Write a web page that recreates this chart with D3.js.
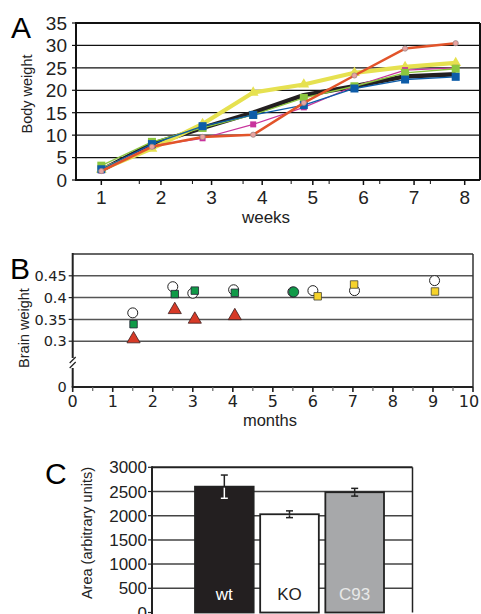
<!DOCTYPE html>
<html>
<head>
<meta charset="utf-8">
<script src="https://cdn.jsdelivr.net/npm/d3@7"></script>
<style>
  body { margin: 0; background: #fff; }
  svg { display: block; }
</style>
</head>
<body>
<svg id="fig" width="481" height="614"></svg>
<script>
// panel A: body weight by week
var weeks = [1, 2, 3, 4, 5, 6, 7, 8];
var weightTicks = [0, 5, 10, 15, 20, 25, 30, 35];
var weekMinorTicks = [1.75, 2.8, 3.8, 4.75, 5.5, 6.5, 7.5];
var bwBlack = [2.2, 8.0, 11.6, 15.0, 18.9, 20.9, 23.1, 23.6];
var bwYellow = [2.3, 7.0, 12.5, 19.5, 21.3, 23.9, 25.2, 26.1];
var bwMagenta = [2.1, 7.6, 9.3, 12.4, 16.2, 20.9, 24.5, 25.0];
var bwGreen = [3.2, 8.5, 11.6, 14.5, 18.3, 20.9, 23.9, 24.8];
var bwBlue = [2.4, 8.0, 12.0, 14.5, 16.7, 20.4, 22.4, 23.0];
var bwOrange = [2.0, 7.4, 9.6, 10.1, 17.2, 23.3, 29.3, 30.5];

// panel B: brain weight by month
var monthTicks = [0, 1, 2, 3, 4, 5, 6, 7, 8, 9, 10];
var brainTicks = [0.3, 0.35, 0.4, 0.45];
var wtMonths = [1.5, 2.5, 3.0, 4.02, 5.5, 6.0, 7.04, 9.04];
var wtBrain = [0.365, 0.425, 0.41, 0.418, 0.413, 0.416, 0.416, 0.439];
var greenMonths = [1.52, 2.55, 3.05, 4.05, 5.52];
var greenBrain = [0.339, 0.408, 0.416, 0.411, 0.413];
var greenShape = ['square', 'square', 'square', 'square', 'circle'];
var redMonths = [1.52, 2.55, 3.05, 4.05];
var redBrain = [0.305, 0.372, 0.35, 0.358];
var yellowMonths = [6.12, 7.03, 9.05];
var yellowBrain = [0.403, 0.43, 0.414];

// panel C: area
var genotypes = ['wt', 'KO', 'C93'];
var areaMean = [2600, 2030, 2485];
var areaErr = [240, 70, 80];
var areaTicks = [0, 500, 1000, 1500, 2000, 2500, 3000];

var svg = d3.select('#fig');
var sans = '"Liberation Sans", Arial, sans-serif';
var verd = '"DejaVu Sans", Verdana, sans-serif';

function zip(xs, ys) {
    return xs.map(function (x, i) { return { x: x, y: ys[i], i: i }; });
}

function panelLetter(txt, x, y) {
    svg.append('text').attr('x', x).attr('y', y)
        .attr('font-family', sans).attr('font-size', 30)
        .text(txt);
}

function drawPanelA() {
    var L = 76, R = 480, T = 23, B = 180;
    var x = d3.scaleLinear().domain([0.5, 8.48]).range([L, R]);
    var y = d3.scaleLinear().domain([0, 35]).range([B, T]);
    var g = svg.append('g');

    g.selectAll('.grid').data(weightTicks.slice(1, -1)).enter().append('line')
        .attr('x1', L).attr('x2', R)
        .attr('y1', function (d) { return y(d); }).attr('y2', function (d) { return y(d); })
        .attr('stroke', '#111').attr('stroke-width', 1.2);

    g.append('line').attr('x1', L).attr('x2', R).attr('y1', T).attr('y2', T)
        .attr('stroke', '#111').attr('stroke-width', 2.2);
    g.append('line').attr('x1', R).attr('x2', R).attr('y1', T).attr('y2', B)
        .attr('stroke', '#111').attr('stroke-width', 2);
    g.append('line').attr('x1', L).attr('x2', L).attr('y1', T - 1).attr('y2', B + 1)
        .attr('stroke', '#111').attr('stroke-width', 2);
    g.append('line').attr('x1', L - 1).attr('x2', R).attr('y1', B).attr('y2', B)
        .attr('stroke', '#111').attr('stroke-width', 2);

    // y ticks and labels
    g.selectAll('.yt').data(weightTicks).enter().append('line')
        .attr('x1', L - 4).attr('x2', L)
        .attr('y1', function (d) { return y(d); }).attr('y2', function (d) { return y(d); })
        .attr('stroke', '#111').attr('stroke-width', 1.2);
    g.selectAll('.yl').data(weightTicks).enter().append('text')
        .attr('x', L - 9).attr('y', function (d) { return y(d); })
        .attr('dy', '0.36em').attr('text-anchor', 'end')
        .attr('font-family', sans).attr('font-size', 19).attr('fill', '#222')
        .text(function (d) { return d; });

    // x ticks: labels sit a little right of the data points after week 1
    var labelX = function (w) { return x(w) + (w > 1 ? 9 : 0); };
    g.selectAll('.xt').data(weeks).enter().append('line')
        .attr('x1', labelX).attr('x2', labelX)
        .attr('y1', B).attr('y2', B + 5)
        .attr('stroke', '#111').attr('stroke-width', 1.5);
    g.selectAll('.xm').data(weekMinorTicks).enter().append('line')
        .attr('x1', function (d) { return x(d); }).attr('x2', function (d) { return x(d); })
        .attr('y1', B).attr('y2', B + 4)
        .attr('stroke', '#111').attr('stroke-width', 1);
    g.selectAll('.xl').data(weeks).enter().append('text')
        .attr('x', labelX).attr('y', B + 24)
        .attr('text-anchor', 'middle')
        .attr('font-family', sans).attr('font-size', 19).attr('fill', '#222')
        .text(function (d) { return d; });

    g.append('text').attr('x', 266).attr('y', 223).attr('text-anchor', 'middle')
        .attr('font-family', sans).attr('font-size', 17).attr('fill', '#222').text('weeks');
    g.append('text').attr('transform', 'translate(32,94) rotate(-90)')
        .attr('text-anchor', 'middle')
        .attr('font-family', sans).attr('font-size', 14.5).attr('fill', '#222').text('Body weight');

    var line = d3.line().x(function (d) { return x(d.x); }).y(function (d) { return y(d.y); });
    var series = [
        { v: bwBlack, color: '#231f20', w: 4.5, mark: null },
        { v: bwYellow, color: '#e6e150', w: 4.2, mark: 'triangle' },
        { v: bwMagenta, color: '#c8339c', w: 1.2, mark: 'smallsquare' },
        { v: bwGreen, color: '#8cc63f', w: 1.3, mark: 'square' },
        { v: bwBlue, color: '#0d5ca8', w: 1.3, mark: 'square' },
        { v: bwOrange, color: '#e2542a', w: 2.5, mark: 'circle' }
    ];
    series.forEach(function (s) {
        var pts = zip(weeks, s.v);
        g.append('path').datum(pts).attr('d', line)
            .attr('fill', 'none').attr('stroke', s.color).attr('stroke-width', s.w)
            .attr('stroke-linejoin', 'round');
        if (s.mark === 'square' || s.mark === 'smallsquare') {
            var sz = s.mark === 'square' ? 8 : 6;
            g.selectAll(null).data(pts).enter().append('rect')
                .attr('x', function (d) { return x(d.x) - sz / 2; })
                .attr('y', function (d) { return y(d.y) - sz / 2; })
                .attr('width', sz).attr('height', sz).attr('fill', s.color);
        } else if (s.mark === 'triangle') {
            g.selectAll(null).data(pts).enter().append('path')
                .attr('d', d3.symbol(d3.symbolTriangle, 50))
                .attr('transform', function (d) { return 'translate(' + x(d.x) + ',' + y(d.y) + ')'; })
                .attr('fill', s.color);
        } else if (s.mark === 'circle') {
            g.selectAll(null).data(pts).enter().append('circle')
                .attr('cx', function (d) { return x(d.x); })
                .attr('cy', function (d) { return y(d.y); })
                .attr('r', 2.6).attr('fill', '#eaa3a0')
                .attr('stroke', '#9a8a8a').attr('stroke-width', 0.8);
        }
    });
    panelLetter('A', 11, 38);
}

function drawPanelB() {
    var L = 72.7, R = 473, T = 254, B = 387;
    var x = d3.scaleLinear().domain([0, 10]).range([L, R]);
    var y = d3.scaleLinear().domain([0, 0.25, 0.5]).range([B, 363, T]);
    var g = svg.append('g');

    g.selectAll('.grid').data(brainTicks).enter().append('line')
        .attr('x1', L).attr('x2', R)
        .attr('y1', function (d) { return y(d); }).attr('y2', function (d) { return y(d); })
        .attr('stroke', '#555').attr('stroke-width', 1.5);
    g.append('line').attr('x1', L).attr('x2', R).attr('y1', T).attr('y2', T)
        .attr('stroke', '#333').attr('stroke-width', 1.5);
    g.append('line').attr('x1', R).attr('x2', R).attr('y1', T).attr('y2', B)
        .attr('stroke', '#333').attr('stroke-width', 1.5);
    // broken y axis
    g.append('line').attr('x1', L).attr('x2', L).attr('y1', T - 1).attr('y2', 358)
        .attr('stroke', '#222').attr('stroke-width', 2);
    g.append('line').attr('x1', L).attr('x2', L).attr('y1', 368).attr('y2', B)
        .attr('stroke', '#222').attr('stroke-width', 2);
    [360, 365].forEach(function (yy) {
        g.append('line').attr('x1', L - 3).attr('x2', L + 3).attr('y1', yy + 3).attr('y2', yy - 3)
            .attr('stroke', '#222').attr('stroke-width', 1.2);
    });
    g.append('line').attr('x1', L - 1).attr('x2', R).attr('y1', B).attr('y2', B)
        .attr('stroke', '#222').attr('stroke-width', 2);

    var halfTicks = d3.range(0.5, 10, 1);
    g.selectAll('.xt').data(monthTicks).enter().append('line')
        .attr('x1', function (d) { return x(d); }).attr('x2', function (d) { return x(d); })
        .attr('y1', B).attr('y2', B + 5)
        .attr('stroke', '#222').attr('stroke-width', 1.6);
    g.selectAll('.xm').data(halfTicks).enter().append('line')
        .attr('x1', function (d) { return x(d); }).attr('x2', function (d) { return x(d); })
        .attr('y1', B).attr('y2', B + 4)
        .attr('stroke', '#666').attr('stroke-width', 1.2);
    g.selectAll('.xl').data(monthTicks).enter().append('text')
        .attr('x', function (d) { return Math.min(x(d), 469); }).attr('y', B + 20)
        .attr('text-anchor', 'middle')
        .attr('font-family', verd).attr('font-size', 16).attr('fill', '#222')
        .text(function (d) { return d; });
    g.selectAll('.yt').data(brainTicks).enter().append('line')
        .attr('x1', L - 4).attr('x2', L)
        .attr('y1', function (d) { return y(d); }).attr('y2', function (d) { return y(d); })
        .attr('stroke', '#222').attr('stroke-width', 1.2);
    g.selectAll('.yl').data([0].concat(brainTicks)).enter().append('text')
        .attr('x', L - 6).attr('y', function (d) { return y(d); })
        .attr('dy', '0.36em').attr('text-anchor', 'end')
        .attr('font-family', verd).attr('font-size', 14.5).attr('fill', '#222')
        .text(function (d) { return d; });

    g.append('text').attr('x', 270).attr('y', 426).attr('text-anchor', 'middle')
        .attr('font-family', sans).attr('font-size', 16.5).attr('fill', '#222').text('months');
    g.append('text').attr('transform', 'translate(29,328) rotate(-90)')
        .attr('text-anchor', 'middle')
        .attr('font-family', sans).attr('font-size', 14.5).attr('fill', '#222').text('Brain weight');

    g.selectAll('.wt').data(zip(wtMonths, wtBrain)).enter().append('circle')
        .attr('cx', function (d) { return x(d.x); }).attr('cy', function (d) { return y(d.y); })
        .attr('r', 5).attr('fill', '#fff').attr('stroke', '#222').attr('stroke-width', 1);
    g.selectAll('.red').data(zip(redMonths, redBrain)).enter().append('path')
        .attr('d', d3.symbol(d3.symbolTriangle, 75))
        .attr('transform', function (d) { return 'translate(' + x(d.x) + ',' + y(d.y) + ')'; })
        .attr('fill', '#d73a27').attr('stroke', '#3a2020').attr('stroke-width', 0.8);
    g.selectAll('.green').data(zip(greenMonths, greenBrain)).enter().append('path')
        .attr('d', function (d) {
            return greenShape[d.i] === 'circle' ? d3.symbol(d3.symbolCircle, 80)() : d3.symbol(d3.symbolSquare, 56)();
        })
        .attr('transform', function (d) { return 'translate(' + x(d.x) + ',' + y(d.y) + ')'; })
        .attr('fill', '#109a48').attr('stroke', '#223').attr('stroke-width', 0.8);
    g.selectAll('.yellow').data(zip(yellowMonths, yellowBrain)).enter().append('path')
        .attr('d', d3.symbol(d3.symbolSquare, 56))
        .attr('transform', function (d) { return 'translate(' + x(d.x) + ',' + y(d.y) + ')'; })
        .attr('fill', '#f6d32a').attr('stroke', '#443').attr('stroke-width', 0.8);
    panelLetter('B', 10, 279);
}

function drawPanelC() {
    var L = 152, R = 412.5, T = 467.3, B = 612.5;
    var x = d3.scaleBand().domain(genotypes).range([195, 384]).paddingInner(0.1);
    var y = d3.scaleLinear().domain([0, 3000]).range([B, T]);
    var g = svg.append('g');
    var fills = ['#231f20', '#ffffff', '#a7a8aa'];
    var labelFill = ['#ffffff', '#222222', '#e8e8e8'];
    var errInside = ['#ffffff', '#222222', '#222222'];

    g.selectAll('.grid').data(areaTicks.slice(1, -1)).enter().append('line')
        .attr('x1', L).attr('x2', R)
        .attr('y1', function (d) { return y(d); }).attr('y2', function (d) { return y(d); })
        .attr('stroke', '#444').attr('stroke-width', 1.5);
    g.append('line').attr('x1', L).attr('x2', R).attr('y1', T).attr('y2', T)
        .attr('stroke', '#222').attr('stroke-width', 2);
    g.append('line').attr('x1', R).attr('x2', R).attr('y1', T).attr('y2', B)
        .attr('stroke', '#222').attr('stroke-width', 1.5);
    g.append('line').attr('x1', L).attr('x2', L).attr('y1', T - 1).attr('y2', B + 2)
        .attr('stroke', '#222').attr('stroke-width', 2);
    g.selectAll('.yt').data(areaTicks).enter().append('line')
        .attr('x1', L - 4).attr('x2', L)
        .attr('y1', function (d) { return y(d); }).attr('y2', function (d) { return y(d); })
        .attr('stroke', '#222').attr('stroke-width', 1.2);
    g.selectAll('.yl').data(areaTicks).enter().append('text')
        .attr('x', L - 5).attr('y', function (d) { return y(d); })
        .attr('dy', '0.36em').attr('text-anchor', 'end')
        .attr('font-family', sans).attr('font-size', 17).attr('fill', '#222')
        .text(function (d) { return d; });
    g.append('text').attr('transform', 'translate(92,533) rotate(-90)')
        .attr('text-anchor', 'middle')
        .attr('font-family', sans).attr('font-size', 14.5).attr('fill', '#222').text('Area (arbitrary units)');

    var data = genotypes.map(function (k, i) { return { k: k, m: areaMean[i], e: areaErr[i], i: i }; });
    g.selectAll('.bar').data(data).enter().append('rect')
        .attr('x', function (d) { return x(d.k); }).attr('width', x.bandwidth())
        .attr('y', function (d) { return y(d.m); })
        .attr('height', function (d) { return B - y(d.m); })
        .attr('fill', function (d) { return fills[d.i]; })
        .attr('stroke', '#222').attr('stroke-width', 1.8);
    data.forEach(function (d) {
        var cx = x(d.k) + x.bandwidth() / 2;
        var top = y(d.m + d.e), bot = y(d.m - d.e), mid = y(d.m);
        // part above the bar is dark, part inside follows the bar contrast
        g.append('line').attr('x1', cx).attr('x2', cx).attr('y1', top).attr('y2', mid)
            .attr('stroke', '#222').attr('stroke-width', 1.5);
        g.append('line').attr('x1', cx - 3.5).attr('x2', cx + 3.5).attr('y1', top).attr('y2', top)
            .attr('stroke', '#222').attr('stroke-width', 1.5);
        g.append('line').attr('x1', cx).attr('x2', cx).attr('y1', mid + 1).attr('y2', bot)
            .attr('stroke', errInside[d.i]).attr('stroke-width', 1.5);
        g.append('line').attr('x1', cx - 3.5).attr('x2', cx + 3.5).attr('y1', bot).attr('y2', bot)
            .attr('stroke', errInside[d.i]).attr('stroke-width', 1.5);
        g.append('text').attr('x', cx).attr('y', 600).attr('text-anchor', 'middle')
            .attr('font-family', sans).attr('font-size', 17).attr('fill', labelFill[d.i])
            .text(d.k);
    });
    panelLetter('C', 45, 484);
}

drawPanelA();
drawPanelB();
drawPanelC();
</script>
</body>
</html>
